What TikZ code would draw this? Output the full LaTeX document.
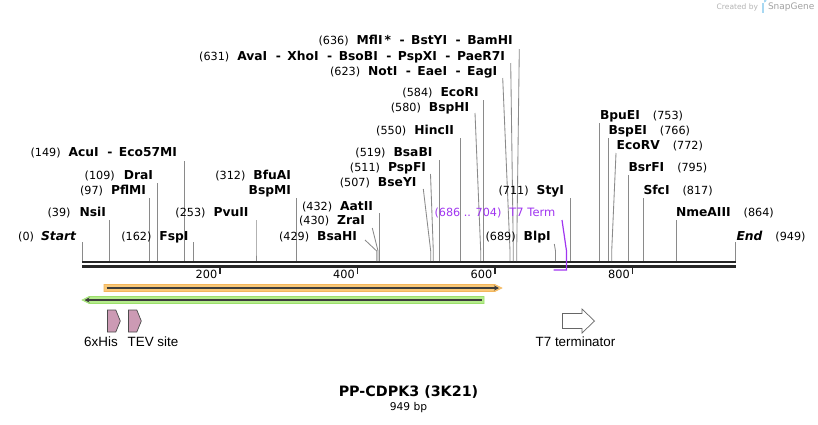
\documentclass[tikz,border=0pt]{standalone}
\usepackage{fontspec}
\setmainfont{DejaVu Sans}
\newfontfamily\featfont{Liberation Sans}
\usetikzlibrary{arrows.meta}
\definecolor{cutgray}{HTML}{8A8A8A}
\definecolor{termpurple}{HTML}{A035F0}
\definecolor{orfband}{HTML}{F9C878}
\definecolor{orfbandedge}{HTML}{F3B65C}
\definecolor{grnband}{HTML}{B5EC8C}
\definecolor{grnbandedge}{HTML}{9CDF6C}
\definecolor{darkline}{HTML}{3C3C3C}
\definecolor{tagpink}{HTML}{CC9AB4}
\definecolor{wmgray}{HTML}{B4B4B4}
\definecolor{wmblue}{HTML}{A8D8F2}
\newcommand\enzname[1]{{\fontsize{12.3}{14}\selectfont\bfseries #1}}
\newcommand\enznum[1]{{\fontsize{11.2}{13}\selectfont #1}}
\newcommand\enzsep{\hspace{8.5pt}-\hspace{6.5pt}}
\newcommand\cutsite[4]{%
  \coordinate (#1-t) at (#2,#3);
  \coordinate (#1-k) at (#4,251);
  \coordinate (#1-b) at (#4,261);
  \draw[cutline] (#1-t) -- (#1-k) -- (#1-b);}
\tikzset{
  lbl/.style={inner sep=0pt, outer sep=0pt},
  cutline/.style={draw=cutgray, line width=0.85pt},
  backbone/.style={draw=black!85, line width=2.5pt},
  tick/.style={draw=black!85, line width=1.2pt},
  ticklbl/.style={inner sep=0pt, anchor=east, font=\fontsize{11.3}{12}\selectfont},
  featlbl/.style={inner sep=0pt, font=\featfont\fontsize{13.4}{14}\selectfont},
  tagarrow/.style={fill=tagpink, draw=black!70, line width=0.7pt},
  termarrow/.style={fill=white, draw=black!60, line width=0.7pt},
}
\begin{document}
\begin{tikzpicture}[x=1pt,y=-1pt]
\useasboundingbox (0,0) rectangle (818,424);
\fill[white] (0,0) rectangle (818,424);

% watermark
\node[lbl,anchor=east,text=wmgray] (wm1) at (758,7) {\fontsize{7.5}{9}\selectfont Created by};
\fill[wmblue] (761.5,2.5) rectangle (764,12.5);
\fill[wmblue] (764,2.5) arc (90:-90:2.6) -- cycle;
\node[lbl,anchor=west,text=wmgray!90!black] (wm2) at (768,7) {\fontsize{9}{10}\selectfont SnapGene};

% backbone
\coordinate (bbL) at (82,262);
\coordinate (bbR) at (736,262);
\coordinate (bbL2) at (82,266.5);
\coordinate (bbR2) at (736,266.5);
\draw[backbone] (bbL) -- (bbR);
\draw[backbone] (bbL2) -- (bbR2);

% ticks
\foreach \tx/\tl in {220/200, 357.5/400, 495/600, 632.5/800}{
  \draw[tick] (\tx,267) -- (\tx,274);
  \node[ticklbl] at (\tx-2.5,274) {\tl};
}

% ---- cut sites ----
\cutsite{c0}{82.7}{242}{82.7}
\cutsite{c39}{109.3}{220}{109.3}
\cutsite{c97}{149.3}{198}{149.3}
\cutsite{c109}{157.3}{183}{157.3}
\cutsite{c149}{184.3}{161}{184.3}
\cutsite{c162}{193.3}{242}{193.3}
\cutsite{c253}{256}{220}{256}
\cutsite{c312}{296.7}{198}{296.7}
\cutsite{c429}{365}{240}{376.7}
\cutsite{c430}{372.3}{228}{378}
\cutsite{c432}{379.5}{213}{379.5}
\cutsite{c507}{423.3}{189}{430.7}
\cutsite{c511}{430.5}{174}{433.3}
\cutsite{c519}{439.3}{160}{439.3}
\cutsite{c550}{460.7}{138}{460.7}
\cutsite{c580}{475}{113}{480.7}
\cutsite{c584}{483.3}{100}{483.3}
\cutsite{c623}{502.7}{78}{510}
\cutsite{c631}{510.7}{63}{513.3}
\cutsite{c636}{519.3}{49}{516.7}
\cutsite{c689}{554.3}{244}{555.5}
\cutsite{c711}{570.3}{198}{570.3}
\cutsite{c753}{599.3}{123}{599.3}
\cutsite{c766}{608.3}{138}{608.3}
\cutsite{c772}{616}{153}{611.7}
\cutsite{c795}{628.3}{175}{628.3}
\cutsite{c817}{643.3}{198}{643.3}
\cutsite{c864}{676}{220}{676}
\cutsite{c949}{735.7}{242}{735.7}

% ---- labels, left side ----
\node[lbl,anchor=east] (l0) at (76,237) {\enznum{(0)}\hspace{7pt}\enzname{\itshape Start}};
\node[lbl,anchor=east] (l39) at (106,213) {\enznum{(39)}\hspace{9pt}\enzname{NsiI}};
\node[lbl,anchor=east] (l97) at (146,191) {\enznum{(97)}\hspace{8pt}\enzname{PflMI}};
\node[lbl,anchor=east] (l109) at (153,176) {\enznum{(109)}\hspace{9pt}\enzname{DraI}};
\node[lbl,anchor=east] (l149) at (177,153) {\enznum{(149)}\hspace{8pt}\enzname{AcuI\enzsep Eco57MI}};
\node[lbl,anchor=east] (l162) at (188.5,237) {\enznum{(162)}\hspace{8pt}\enzname{FspI}};
\node[lbl,anchor=east] (l253) at (248.5,213) {\enznum{(253)}\hspace{8pt}\enzname{PvuII}};
\node[lbl,anchor=east] (l312) at (291,176) {\enznum{(312)}\hspace{8pt}\enzname{BfuAI}};
\node[lbl,anchor=east] (l312b) at (291,191) {\enzname{BspMI}};
\node[lbl,anchor=east] (l429) at (357,237) {\enznum{(429)}\hspace{8pt}\enzname{BsaHI}};
\node[lbl,anchor=east] (l430) at (365,221) {\enznum{(430)}\hspace{8pt}\enzname{ZraI}};
\node[lbl,anchor=east] (l432) at (373,207) {\enznum{(432)}\hspace{8pt}\enzname{AatII}};
\node[lbl,anchor=east] (l507) at (416.5,183) {\enznum{(507)}\hspace{8pt}\enzname{BseYI}};
\node[lbl,anchor=east] (l511) at (426,168) {\enznum{(511)}\hspace{8pt}\enzname{PspFI}};
\node[lbl,anchor=east] (l519) at (432.5,153) {\enznum{(519)}\hspace{8pt}\enzname{BsaBI}};
\node[lbl,anchor=east] (l550) at (454,131) {\enznum{(550)}\hspace{8pt}\enzname{HincII}};
\node[lbl,anchor=east] (l580) at (469.3,108) {\enznum{(580)}\hspace{8pt}\enzname{BspHI}};
\node[lbl,anchor=east] (l584) at (478.7,93) {\enznum{(584)}\hspace{8pt}\enzname{EcoRI}};
\node[lbl,anchor=east] (l623) at (497.3,72) {\enznum{(623)}\hspace{8pt}\enzname{NotI\enzsep EaeI\enzsep EagI}};
\node[lbl,anchor=east] (l631) at (505,57) {\enznum{(631)}\hspace{8pt}\enzname{AvaI\enzsep XhoI\enzsep BsoBI\enzsep PspXI\enzsep PaeR7I}};
\node[lbl,anchor=east] (l636) at (512.7,41) {\enznum{(636)}\hspace{8pt}\enzname{MflI\hspace{2pt}*\enzsep BstYI\enzsep BamHI}};
\node[lbl,anchor=east] (l689) at (550.7,237) {\enznum{(689)}\hspace{8pt}\enzname{BlpI}};
\node[lbl,anchor=east] (l711) at (564,191) {\enznum{(711)}\hspace{8pt}\enzname{StyI}};

% T7 Term feature label (purple)
\node[lbl,anchor=east,text=termpurple] (lt7) at (555.3,213) {\enznum{(686 .. 704)}\hspace{8pt}{\fontsize{11.5}{13}\selectfont T7 Term}};
\coordinate (t7t) at (562,220);
\coordinate (t7k) at (566.5,251);
\coordinate (t7b) at (566.5,270);
\coordinate (t7e) at (553.5,270);
\draw[termpurple, line width=1.2pt] (t7t) -- (t7k) -- (t7b) -- (t7e);

% ---- labels, right side ----
\node[lbl,anchor=west] (l753) at (600,116) {\enzname{BpuEI}\hspace{13pt}\enznum{(753)}};
\node[lbl,anchor=west] (l766) at (608.5,131) {\enzname{BspEI}\hspace{13pt}\enznum{(766)}};
\node[lbl,anchor=west] (l772) at (616.7,146) {\enzname{EcoRV}\hspace{13pt}\enznum{(772)}};
\node[lbl,anchor=west] (l795) at (628.5,168) {\enzname{BsrFI}\hspace{13pt}\enznum{(795)}};
\node[lbl,anchor=west] (l817) at (643.5,191) {\enzname{SfcI}\hspace{13pt}\enznum{(817)}};
\node[lbl,anchor=west] (l864) at (676,213) {\enzname{NmeAIII}\hspace{13pt}\enznum{(864)}};
\node[lbl,anchor=west] (l949) at (736.5,237) {\enzname{\itshape End}\hspace{13pt}\enznum{(949)}};

% ---- ORF arrows ----
\fill[orfband, draw=orfbandedge, line width=0.6pt]
  (104,284.5) -- (495,284.5) -- (502,288) -- (495,291.5) -- (104,291.5) -- cycle;
\coordinate (orf1s) at (106.5,288);
\coordinate (orf1e) at (499,288);
\draw[darkline, line width=1.9pt, -{Stealth[length=5pt,width=5pt]}] (orf1s) -- (orf1e);

\fill[grnband, draw=grnbandedge, line width=0.6pt]
  (484,296.5) -- (89,296.5) -- (82,300) -- (89,303.5) -- (484,303.5) -- cycle;
\coordinate (orf2s) at (481.5,300);
\coordinate (orf2e) at (84.5,300);
\draw[darkline, line width=1.9pt, -{Stealth[length=5pt,width=5pt]}] (orf2s) -- (orf2e);

% ---- features ----
\draw[tagarrow] (107.5,310) -- (115.8,310) -- (120.3,321) -- (115.8,332) -- (107.5,332) -- cycle;
\draw[tagarrow] (128.5,310) -- (136.8,310) -- (141.3,321) -- (136.8,332) -- (128.5,332) -- cycle;
\draw[termarrow] (562.5,313.5) -- (582,313.5) -- (582,309) -- (594.5,321) -- (582,333) -- (582,328.5) -- (562.5,328.5) -- cycle;

\node[featlbl] (fhis) at (101,342) {6xHis};
\node[featlbl] (ftev) at (153,342) {TEV site};
\node[featlbl] (ft7) at (575.5,342) {T7 terminator};

% ---- title ----
\node[inner sep=0pt] (title) at (408.5,392) {\fontsize{14.3}{16}\selectfont\bfseries PP-CDPK3 (3K21)};
\node[inner sep=0pt] (bp) at (408.5,408) {\fontsize{10.7}{12}\selectfont 949 bp};
\end{tikzpicture}
\end{document}
